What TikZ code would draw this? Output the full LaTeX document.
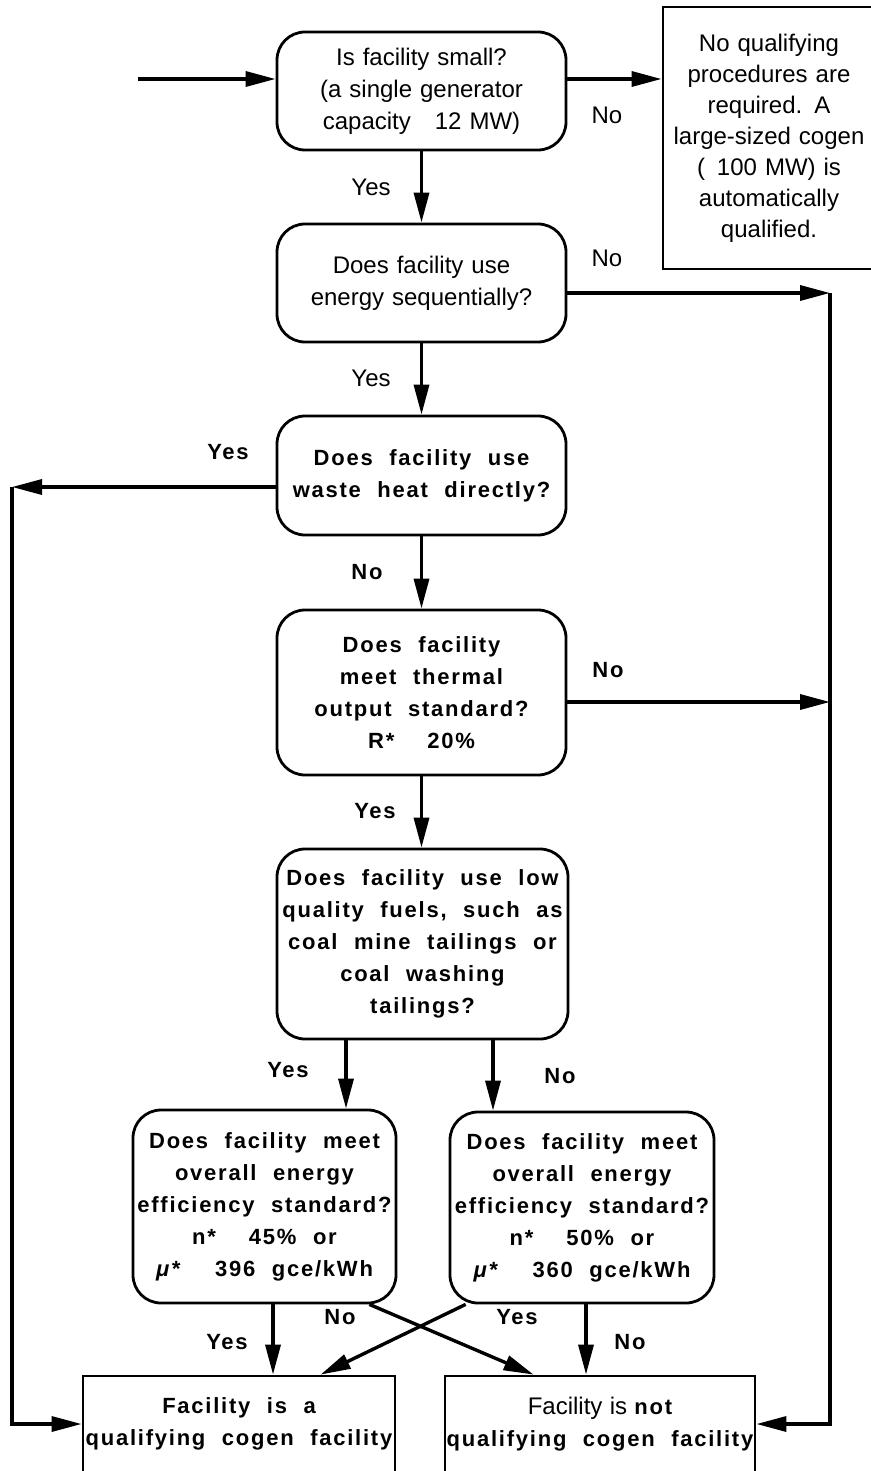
\documentclass[tikz,border=0pt]{standalone}
\usepackage{fontspec}
\setmainfont{Liberation Sans}
\newfontfamily\spacedfont[LetterSpace=8]{Liberation Sans}
\usetikzlibrary{arrows.meta,calc,positioning}
\newcommand*{\wg}{\hspace{0.75em}}% wide gap between bold words
\tikzset{%
  question/.style={draw, rectangle, rounded corners=14pt, line width=1.4pt, inner sep=0pt, align=center},
  plain/.style={question, font=\fontsize{12}{16}\selectfont},% regular questions
  heavy/.style={question, font=\spacedfont\bfseries\fontsize{11}{16}\selectfont},% bold questions
  result/.style={draw, rectangle, line width=1.4pt, inner sep=0pt, align=center},% end boxes
  flow/.style={line width=1.7pt, -{Triangle[length=15pt,width=7.5pt]}},
  answer/.style={font=\fontsize{12}{14}\selectfont},
  boldanswer/.style={font=\spacedfont\bfseries\fontsize{11}{14}\selectfont}
}

\begin{document}
\begin{tikzpicture}[x=0.5pt,y=-0.5pt]
\clip (0,0) rectangle (871,1471);

\node[plain, text width=144.5pt, minimum height=59pt] (small) at (421.5,91) {Is facility small?\\(a single generator\\capacity\quad 12 MW)};
\node[result, font=\fontsize{12}{15.5}\selectfont, text width=106pt, minimum height=131pt] (exempt) at (769,138) {No qualifying\\procedures are\\required. A\\large-sized cogen\\(\enspace 100 MW) is\\automatically\\qualified.};
\node[plain, text width=144.5pt, minimum height=59pt] (sequential) at (421.5,283) {Does facility use\\energy sequentially?};
\node[heavy, text width=144.5pt, minimum height=59.5pt] (wasteheat) at (421.5,475.5) {Does\wg facility\wg use\\waste\wg heat\wg directly?};
\node[heavy, text width=144.5pt, minimum height=82.5pt] (thermal) at (421.5,692.5) {Does\wg facility\\meet\wg thermal\\output\wg standard?\\R*\wg\wg 20\%};
\node[heavy, text width=145.5pt, minimum height=95pt] (fuels) at (422.5,944) {Does\wg facility\wg use\wg low\\quality\wg fuels,\wg such\wg as\\coal\wg mine\wg tailings\wg or\\coal\wg washing\\tailings?};
\node[heavy, text width=131.5pt, minimum height=96.5pt] (effyes) at (264.5,1206.5) {Does\wg facility\wg meet\\overall\wg energy\\efficiency\wg standard?\\n*\wg\wg 45\%\wg or\\\textit{μ*}\wg\wg 396\wg gce/kWh};
\node[heavy, text width=132pt, minimum height=95.5pt] (effno) at (582,1207.5) {Does\wg facility\wg meet\\overall\wg energy\\efficiency\wg standard?\\n*\wg\wg 50\%\wg or\\\textit{μ*}\wg\wg 360\wg gce/kWh};
\node[result, font=\spacedfont\bfseries\fontsize{11}{16}\selectfont, text width=156pt, minimum height=48pt] (isqual) at (239,1424) {Facility\wg is\wg a\\qualifying\wg cogen\wg facility};
\node[result, font=\spacedfont\bfseries\fontsize{11}{16}\selectfont, text width=155pt, minimum height=48pt] (notqual) at (600,1424) {{\normalfont\fontsize{12}{16}\selectfont Facility is} not\\qualifying\wg cogen\wg facility};

% answers
\node[answer] (no1) at (607,115) {No};
\node[answer] (yes1) at (371,187) {Yes};
\node[answer] (no2) at (607,258) {No};
\node[answer] (yes2) at (371,378) {Yes};
\node[boldanswer] (yes3) at (228,452) {Yes};
\node[boldanswer] (no3) at (367,572) {No};
\node[boldanswer] (no4) at (608,670) {No};
\node[boldanswer] (yes4) at (375,811) {Yes};
\node[boldanswer] (yes5) at (288,1070) {Yes};
\node[boldanswer] (no5) at (560,1076) {No};
\node[boldanswer] (yes6) at (227,1342) {Yes};
\node[boldanswer] (no6) at (340,1317) {No};
\node[boldanswer] (yes7) at (517,1317) {Yes};
\node[boldanswer] (no7) at (630,1342) {No};

\coordinate (entry) at (138,79);
\coordinate (busA) at (830,293);
\coordinate (busB) at (830,702);
\coordinate (busL) at (12,487);

\draw[flow] (entry) -- (entry -| small.west);
\draw[flow] (entry -| small.east) -- (entry -| exempt.west);
\draw[flow] (small.south) -- (sequential.north);
\draw[flow] (sequential.south) -- (wasteheat.north);
\draw[flow] (wasteheat.south) -- (thermal.north);
\draw[flow] (thermal.south) -- (thermal.south |- fuels.north);

\draw[flow] (busA -| sequential.east) -- (busA);
\draw[flow] (busB -| thermal.east) -- (busB);
\draw[flow] (busA) |- (notqual.east);
\draw[flow] (busL -| wasteheat.west) -- (busL);
\draw[flow] (busL) |- (isqual.west);

\coordinate (yesfuel) at ($(fuels.south)+(-76.5,0)$);
\coordinate (nofuel) at ($(fuels.south)+(70.5,0)$);
\draw[flow] (yesfuel) -- (yesfuel |- effyes.north);
\draw[flow] (nofuel) -- (nofuel |- effno.north);

\coordinate (yeseff) at ($(effyes.south)+(8.5,0)$);
\coordinate (noeff) at ($(effno.south)+(4,0)$);
\draw[flow] (yeseff) -- (yeseff |- isqual.north);
\draw[flow] (noeff) -- (noeff |- notqual.north);
\draw[flow] ($(effyes.south east)+(-28,0)$) -- ($(notqual.north west)+(90,0)$);
\draw[flow] ($(effno.south west)+(17,0)$) -- ($(isqual.north west)+(239,0)$);

\end{tikzpicture}
\end{document}
